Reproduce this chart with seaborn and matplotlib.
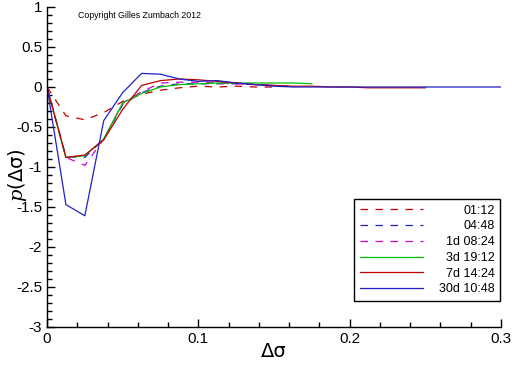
import matplotlib
matplotlib.use("Agg")
import matplotlib.pyplot as plt
import matplotlib.ticker as mticker
import numpy as np
import pandas as pd
import seaborn as sns

# step in delta sigma shared by all curves
x_grid = [0, 0.0125, 0.025, 0.0375, 0.05, 0.0625, 0.075, 0.0875, 0.1, 0.1125,
          0.125, 0.1375, 0.15, 0.1625, 0.175, 0.1875, 0.2, 0.2125, 0.225, 0.2375,
          0.25, 0.2625, 0.275, 0.2875, 0.3]

labels = ["01:12", "04:48", "1d 08:24", "3d 19:12", "7d 14:24", "30d 10:48"]
colors = ["#c00000", "#2020c8", "#d000d0", "#00c000", "#c00000", "#2020c8"]
dashed = [True, True, True, False, False, False]

p_0112 = [0, -0.36, -0.41, -0.32, -0.18, -0.09, -0.04, -0.01, 0.01, 0.0, 0.01, 0.0, 0.0]
p_0448 = [0, -0.87, -0.88, -0.65, -0.22, -0.07, 0.01, 0.04, 0.04, 0.04, 0.04, 0.03, 0.02]
p_1d0824 = [0, -0.88, -0.98, -0.65, -0.2, -0.06, 0.05, 0.06, 0.06, 0.05, 0.04, 0.03, 0.02, 0.01]
p_3d1912 = [0, -0.88, -0.86, -0.65, -0.2, -0.08, 0.0, 0.03, 0.04, 0.05, 0.05, 0.05, 0.05, 0.05, 0.04]
p_7d1424 = [0, -0.88, -0.85, -0.66, -0.28, 0.02, 0.08, 0.1, 0.09, 0.07, 0.05, 0.03, 0.02,
            0.01, 0.01, 0.0, 0.0, -0.01, -0.01, -0.01, -0.01]
p_30d1048 = [0, -1.47, -1.61, -0.42, -0.07, 0.17, 0.16, 0.1, 0.07, 0.08, 0.05, 0.03, 0.01,
             0.0, 0.0, 0.0, 0.0, 0.0, 0.0, 0.0, 0.0, 0.0, 0.0, 0.0, 0.0]

series = [p_0112, p_0448, p_1d0824, p_3d1912, p_7d1424, p_30d1048]

frames = []
for lab, vals in zip(labels, series):
    frames.append(pd.DataFrame({"dsigma": x_grid[:len(vals)], "p": vals, "horizon": lab}))
df = pd.concat(frames, ignore_index=True)

plt.rcParams["font.family"] = ["Liberation Sans", "DejaVu Sans"]
plt.rcParams["axes.unicode_minus"] = False
plt.rcParams["mathtext.fontset"] = "dejavuserif"

fig = plt.figure(figsize=(5.12, 3.66), dpi=100)
ax = fig.add_axes([47 / 512, 1 - 327 / 366, 454 / 512, 320 / 366])

sns.lineplot(data=df, x="dsigma", y="p", hue="horizon", style="horizon",
             hue_order=labels, style_order=labels,
             palette=dict(zip(labels, colors)),
             dashes={l: ((6, 6) if d else "") for l, d in zip(labels, dashed)},
             linewidth=0.9, sort=False, legend=False, ax=ax)

ax.set_xlim(0, 0.3)
ax.set_ylim(-3, 1)
ax.xaxis.set_major_locator(mticker.MultipleLocator(0.1))
ax.xaxis.set_minor_locator(mticker.MultipleLocator(0.02))
ax.yaxis.set_major_locator(mticker.MultipleLocator(0.5))
ax.yaxis.set_minor_locator(mticker.MultipleLocator(0.1))
fmt = mticker.FuncFormatter(lambda v, pos: "%g" % round(v, 3))
ax.xaxis.set_major_formatter(fmt)
ax.yaxis.set_major_formatter(fmt)
ax.tick_params(which="both", direction="in", color="black", width=1, labelsize=11)
ax.tick_params(which="major", length=6)
ax.tick_params(which="minor", length=3.5)
for side in ["top", "right"]:
    ax.spines[side].set_visible(False)
for side in ["left", "bottom"]:
    ax.spines[side].set_color("black")
    ax.spines[side].set_linewidth(1)

ax.set_xlabel("Δσ", fontsize=14, family=["DejaVu Sans"])
ax.set_ylabel("$p$(Δσ)", fontsize=14, family=["DejaVu Sans"])
ax.xaxis.set_label_coords(0.5, -0.048)
ax.yaxis.set_label_coords(-0.066, 0.475)
ax.yaxis.label.set_va("center")

fig.text(78 / 512, 1 - 16 / 366, "Copyright Gilles Zumbach 2012", fontsize=6.3, va="center")

leg = ax.legend(ax.get_lines()[:len(labels)], labels, loc="lower right",
                bbox_to_anchor=(500 / 512, 1 - 301 / 366), bbox_transform=fig.transFigure,
                fontsize=9, frameon=True, fancybox=False, framealpha=1, edgecolor="black",
                borderaxespad=0, borderpad=0.45, handlelength=5.0, handletextpad=1.3,
                labelspacing=0.3)
leg.get_frame().set_linewidth(1)

# right-align legend labels like the original
fig.canvas.draw()
renderer = fig.canvas.get_renderer()
widths = [t.get_window_extent(renderer).width for t in leg.get_texts()]
for t, w in zip(leg.get_texts(), widths):
    t.set_position((max(widths) - w, 0))

fig.savefig("out.png", dpi=100)
